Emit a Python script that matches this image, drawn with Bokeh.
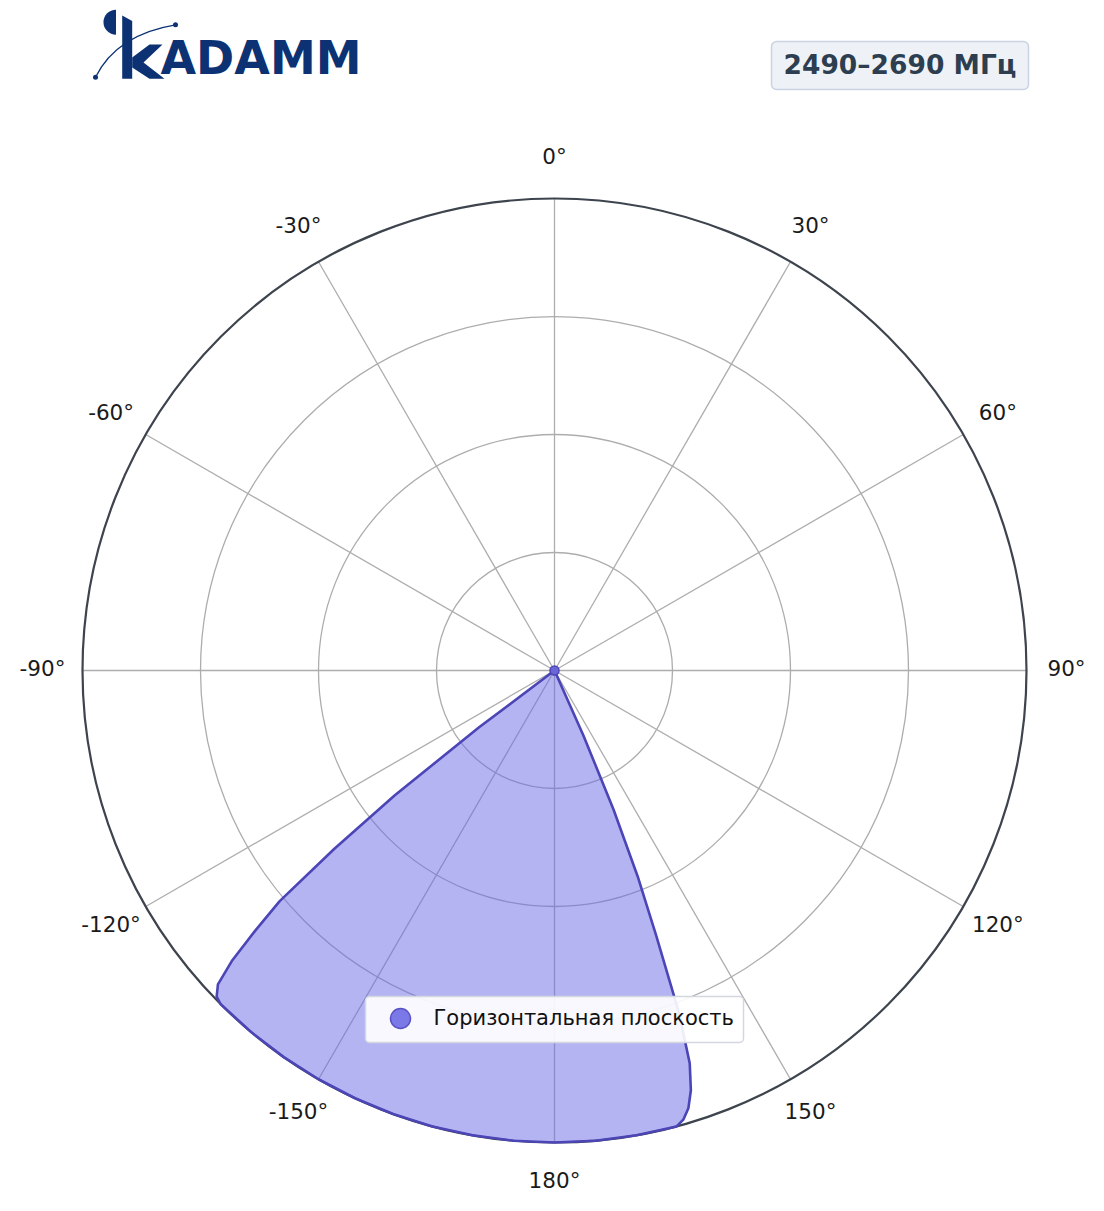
import numpy as np
from bokeh.plotting import figure
from bokeh.models import Range1d
from bokeh.core.properties import value
from bokeh.embed import file_html
from bokeh.resources import INLINE

# ---------------- data ----------------
angle_deg = [0, 30, 60, 90, 120, 150, 155, 156, 157, 158, 159, 160, 161, 162, 163,
             164, 165, 170, 175, 180, 185, 190, 195, 200, 205, 210, 215, 220, 225,
             226, 227, 228, 229, 230, 231, 232, 233, 234, 240, 270, 300, 330, 360]
gain = [0, 0, 0, 0, 0, 0, 0, 0.15, 0.32, 0.47, 0.60, 0.77, 0.88, 0.935, 0.97,
        0.99, 1.0, 1.0, 1.0, 1.0, 1.0, 1.0, 1.0, 1.0, 1.0, 1.0, 1.0, 1.0, 1.0,
        0.995, 0.975, 0.92, 0.84, 0.76, 0.60, 0.43, 0.20, 0, 0, 0, 0, 0, 0]
spoke_angles = [0, 30, 60, 90, 120, 150, 180, 210, 240, 270, 300, 330]
spoke_labels = ["0°", "30°", "60°", "90°", "120°", "150°", "180°",
                "-150°", "-120°", "-90°", "-60°", "-30°"]
ring_levels = [0.25, 0.5, 0.75]
outer_level = 1.0
series_name = "Горизонтальная плоскость"
band_title = "2490–2690 МГц"
brand = "ADAMM"

# ---------------- layout ----------------
W, H = 1088, 1195
OX, OY = 0, 0               # page offset of canvas
CX, CY, R = 554, 670, 472   # page pixels of polar centre / radius


def X(px):
    return (px - CX) / R


def Y(py):
    return (CY - py) / R


p = figure(width=W, height=H,
           x_range=Range1d(X(OX), X(OX + W)), y_range=Range1d(Y(OY + H), Y(OY)),
           output_backend="svg", toolbar_location=None,
           x_axis_type=None, y_axis_type=None, min_border=0,
           outline_line_color=None, background_fill_color="white")

grid_col = "#adadad"
# rings
p.circle(x=[0] * len(ring_levels), y=[0] * len(ring_levels), radius=ring_levels,
         fill_color=None, line_color=grid_col, line_width=1.3)
# spokes
th = np.radians(spoke_angles)
p.segment(x0=[0] * len(th), y0=[0] * len(th),
          x1=outer_level * np.sin(th), y1=outer_level * np.cos(th),
          line_color=grid_col, line_width=1.3)
# outer circle
p.circle(x=[0], y=[0], radius=[outer_level], fill_color=None,
         line_color="#3e444e", line_width=2.2)

# angular labels
rl = 512 / R
p.text(x=rl * np.sin(th), y=rl * np.cos(th) + 2 / R, text=spoke_labels,
       text_font=value("DejaVu Sans"), text_font_size="21.5px",
       text_align="center", text_baseline="middle", text_color="#1a1a1a")

# series
a = np.radians(angle_deg)
g = np.array(gain)
xs = g * np.sin(a)
ys = g * np.cos(a)
p.patch(x=xs, y=ys, fill_color="#6b69e7", fill_alpha=0.5, line_color=None)
p.line(x=xs, y=ys, line_color="#4b45b6", line_width=2.6, line_join="round")
p.scatter(x=[0], y=[0], size=9, fill_color="#6a66d8", line_color="#4b45b6",
          line_width=1.5)

# legend
p.quad(left=X(365), right=X(743), top=Y(996), bottom=Y(1042),
       fill_color="white", fill_alpha=0.9, line_color="#d3d7df",
       line_width=1.5, border_radius=4)
p.scatter(x=[X(400)], y=[Y(1018)], size=20, fill_color="#7b79e8",
          line_color="#5852c4", line_width=1.5)
p.text(x=[X(433)], y=[Y(1017)], text=[series_name],
       text_font=value("DejaVu Sans"), text_font_size="21px",
       text_align="left", text_baseline="middle", text_color="#111111")

# title box
p.quad(left=X(771), right=X(1028), top=Y(41), bottom=Y(89),
       fill_color="#eef2f7", line_color="#c9d3e1", line_width=1.5,
       border_radius=5)
p.text(x=[X(899.5)], y=[Y(64)], text=[band_title],
       text_font=value("DejaVu Sans"), text_font_style="bold",
       text_font_size="26.5px", text_align="center", text_baseline="middle",
       text_color="#2c3e50")

# logo
navy = "#0c3273"
p.wedge(x=[X(115.5)], y=[Y(21.7)], radius=12.5 / R,
        start_angle=np.pi / 2, end_angle=3 * np.pi / 2,
        fill_color=navy, line_color=None)
stem = [(121.7, 15), (131.7, 20.5), (131.7, 78.3), (121.7, 78.3)]
arms = [(131.7, 57), (149, 44), (162, 44), (143, 62), (164, 78.3),
        (149, 78.3), (131.7, 67)]
p.patches(xs=[[X(u) for u, _ in stem], [X(u) for u, _ in arms]],
          ys=[[Y(v) for _, v in stem], [Y(v) for _, v in arms]],
          fill_color=navy, line_color=None)
p.text(x=[X(160)], y=[Y(57)], text=[brand],
       text_font=value("DejaVu Sans"), text_font_style="bold",
       text_font_size="46px", text_align="left", text_baseline="middle",
       text_color=navy)
p.quadratic(x0=[X(95)], y0=[Y(76.7)], x1=[X(175)], y1=[Y(24.3)],
            cx=[X(116)], cy=[Y(34)], line_color=navy, line_width=1.3)
p.scatter(x=[X(95), X(175)], y=[Y(76.7), Y(24.3)], size=5,
          fill_color=navy, line_color=None)

open("out.html", "w").write(file_html(p, INLINE))
